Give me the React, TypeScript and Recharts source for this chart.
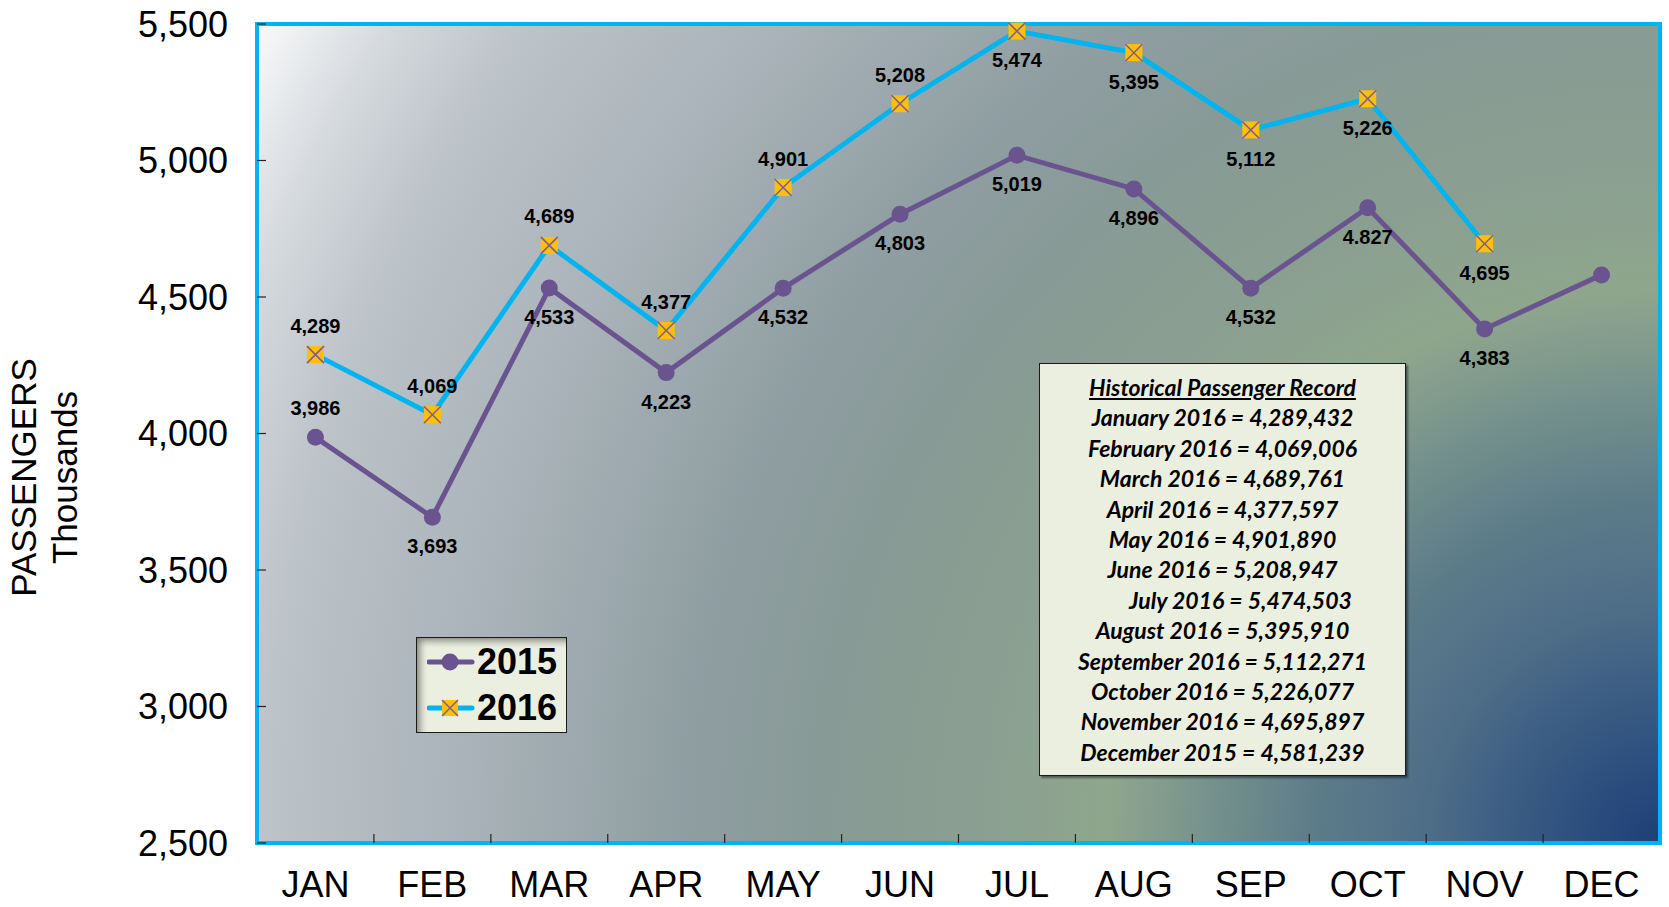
import React from 'react';
import { LineChart, Line, XAxis, YAxis, CartesianGrid, ReferenceArea, LabelList, Legend } from 'recharts';

const months = ['JAN', 'FEB', 'MAR', 'APR', 'MAY', 'JUN', 'JUL', 'AUG', 'SEP', 'OCT', 'NOV', 'DEC'];
const passengers2015 = [3986, 3693, 4533, 4223, 4532, 4803, 5019, 4896, 4532, 4827, 4383, 4581];
const passengers2016 = [4289, 4069, 4689, 4377, 4901, 5208, 5474, 5395, 5112, 5226, 4695, null];
const labels2015 = ['3,986', '3,693', '4,533', '4,223', '4,532', '4,803', '5,019', '4,896', '4,532', '4.827', '4,383', ''];
const labels2016 = ['4,289', '4,069', '4,689', '4,377', '4,901', '5,208', '5,474', '5,395', '5,112', '5,226', '4,695', ''];
const yTicks = [2500, 3000, 3500, 4000, 4500, 5000, 5500];

const recordTitle = 'Historical Passenger Record';
const recordLines = [
  'January 2016 = 4,289,432',
  'February 2016 = 4,069,006',
  'March 2016 = 4,689,761',
  'April 2016 = 4,377,597',
  'May 2016 = 4,901,890',
  'June 2016 = 5,208,947',
  'July 2016 = 5,474,503',
  'August 2016 = 5,395,910',
  'September 2016 = 5,112,271',
  'October 2016 = 5,226,077',
  'November 2016 = 4,695,897',
  'December 2015 = 4,581,239',
];

// which labels sit on the "other" side of their point
const above2015 = [0];
const below2016 = [6, 7, 8, 9, 10];

const COLOR_2015 = '#6a548f';
const COLOR_2016 = '#00b4f0';
const FONT = '"Liberation Sans", Arial, sans-serif';
const X_TICK_MARGIN = 28;
const Y_TICK_MARGIN = 29;
const MARK = 9;

const data = months.map((month, i) => ({
  month,
  y2015: passengers2015[i],
  y2016: passengers2016[i],
  l2015: labels2015[i],
  l2016: labels2016[i],
}));

const fmt = (v: number) => v.toLocaleString('en-US');

// month label plus an inward tick mark on the left edge of its category
const MonthTick = (props: any) => {
  const { x, y, payload, index, width, visibleTicksCount } = props;
  const band = width / (visibleTicksCount || months.length);
  const axisY = y - X_TICK_MARGIN;
  return (
    <g>
      {index > 0 && (
        <line x1={x - band / 2} y1={axisY} x2={x - band / 2} y2={axisY - MARK} stroke="#222" strokeWidth={1.2} />
      )}
      <text x={x} y={y} dy="0.71em" textAnchor="middle" fontFamily={FONT} fontSize={36} fill="#000">
        {payload.value}
      </text>
    </g>
  );
};

const ValueTick = (props: any) => {
  const { x, y, payload } = props;
  const axisX = x + Y_TICK_MARGIN;
  return (
    <g>
      <line x1={axisX} y1={y} x2={axisX + MARK} y2={y} stroke="#222" strokeWidth={1.2} />
      <text x={x} y={y} dy="0.355em" textAnchor="end" fontFamily={FONT} fontSize={36} fill="#000">
        {fmt(payload.value)}
      </text>
    </g>
  );
};

const SquareDot = (props: any) => {
  const { cx, cy, index } = props;
  if (cx == null || cy == null || props.value == null) return <g key={`sq-${index}`} />;
  const h = 8.5;
  return (
    <g key={`sq-${index}`}>
      <rect x={cx - h} y={cy - h} width={h * 2} height={h * 2} fill="#ffc000" />
      <line x1={cx - h} y1={cy - h} x2={cx + h} y2={cy + h} stroke="#7a5aa0" strokeWidth={1.5} />
      <line x1={cx - h} y1={cy + h} x2={cx + h} y2={cy - h} stroke="#7a5aa0" strokeWidth={1.5} />
    </g>
  );
};

const makeLabel = (flipped: number[], defaultBelow: boolean) => (props: any) => {
  const { x, y, value, index } = props;
  if (!value) return null;
  const below = flipped.includes(index) ? !defaultBelow : defaultBelow;
  return (
    <text
      x={x}
      y={y + (below ? 29 : -29)}
      textAnchor="middle"
      dominantBaseline="central"
      fontFamily={FONT}
      fontWeight="bold"
      fontSize={20}
      fill="#000"
    >
      {value}
    </text>
  );
};

const LegendBox = () => (
  <div
    style={{
      width: 151,
      height: 96,
      boxSizing: 'border-box',
      background: '#ebefe0',
      border: '1.5px solid #1a1a1a',
      boxShadow: 'inset 6px 6px 7px -3px rgba(0,0,0,0.45)',
      fontFamily: FONT,
      fontWeight: 'bold',
      fontSize: 36,
      color: '#000',
      paddingTop: 1,
    }}
  >
    {[
      { name: '2015', color: COLOR_2015, square: false },
      { name: '2016', color: COLOR_2016, square: true },
    ].map((s) => (
      <div key={s.name} style={{ display: 'flex', alignItems: 'center', height: 46 }}>
        <svg width={60} height={24} style={{ marginLeft: 10 }}>
          <line x1={2} y1={12} x2={45} y2={12} stroke={s.color} strokeWidth={5} strokeLinecap="round" />
          {s.square ? (
            <g>
              <rect x={15} y={4} width={16} height={16} fill="#ffc000" />
              <line x1={15} y1={4} x2={31} y2={20} stroke="#7a5aa0" strokeWidth={1.5} />
              <line x1={15} y1={20} x2={31} y2={4} stroke="#7a5aa0" strokeWidth={1.5} />
            </g>
          ) : (
            <circle cx={23} cy={12} r={8.5} fill={COLOR_2015} />
          )}
        </svg>
        <span style={{ marginLeft: -10 }}>{s.name}</span>
      </div>
    ))}
  </div>
);

const YTitle = (props: any) => {
  const { viewBox } = props;
  const cy = viewBox.y + viewBox.height / 2 + 44;
  const x1 = viewBox.x + 23;
  const x2 = viewBox.x + 64;
  return (
    <g fontFamily={FONT} fontSize={35} fill="#000">
      <text x={x1} y={cy} textAnchor="middle" dominantBaseline="central" transform={`rotate(-90, ${x1}, ${cy})`}>
        PASSENGERS
      </text>
      <text x={x2} y={cy} textAnchor="middle" dominantBaseline="central" transform={`rotate(-90, ${x2}, ${cy})`}>
        Thousands
      </text>
    </g>
  );
};

export default function App() {
  return (
    <div style={{ position: 'absolute', left: 0, top: 0, width: 1669, height: 907, background: '#fff' }}>
      <LineChart width={1669} height={907} data={data} margin={{ top: 24, right: 9, bottom: 0, left: 0 }}>
        <defs>
          {/* Excel-style path gradient, dark centre in the lower-right corner */}
          <radialGradient id="plotBg" gradientUnits="userSpaceOnUse" cx={1660} cy={843} r={1625}>
            <stop offset="0" stopColor="#1f3f76" />
            <stop offset="0.06" stopColor="#2f5280" />
            <stop offset="0.15" stopColor="#4f6f88" />
            <stop offset="0.21" stopColor="#5c7b89" />
            <stop offset="0.28" stopColor="#76928c" />
            <stop offset="0.34" stopColor="#8fa68d" />
            <stop offset="0.43" stopColor="#8a9e91" />
            <stop offset="0.52" stopColor="#889a96" />
            <stop offset="0.6" stopColor="#8f9ea2" />
            <stop offset="0.73" stopColor="#a8b2b8" />
            <stop offset="0.86" stopColor="#bcc3c9" />
            <stop offset="0.93" stopColor="#d6dade" />
            <stop offset="1" stopColor="#f9fafb" />
          </radialGradient>
        </defs>
        <CartesianGrid horizontal={false} vertical={false} fill="url(#plotBg)" fillOpacity={1} />
        <ReferenceArea
          x1="JAN"
          x2="DEC"
          y1={2500}
          y2={5500}
          fill="none"
          stroke={COLOR_2016}
          strokeWidth={4}
          ifOverflow="visible"
        />
        <XAxis
          dataKey="month"
          scale="band"
          height={64}
          axisLine={false}
          tickLine={false}
          tickSize={0}
          tickMargin={X_TICK_MARGIN}
          interval={0}
          tick={<MonthTick />}
        />
        <YAxis
          width={257}
          domain={[2500, 5500]}
          ticks={yTicks}
          axisLine={false}
          tickLine={false}
          tickMargin={Y_TICK_MARGIN}
          tickSize={0}
          tick={<ValueTick />}
          label={{ content: <YTitle /> }}
        />
        <Legend
          layout="vertical"
          align="center"
          verticalAlign="middle"
          content={<LegendBox />}
          wrapperStyle={{ position: 'absolute', left: 416, top: 637, width: 151, height: 96 }}
        />
        <Line
          dataKey="y2015"
          stroke={COLOR_2015}
          strokeWidth={5}
          dot={{ r: 8.5, fill: COLOR_2015, stroke: 'none' }}
          activeDot={false}
          isAnimationActive={false}
        >
          <LabelList dataKey="l2015" content={makeLabel(above2015, true)} />
        </Line>
        <Line
          dataKey="y2016"
          stroke={COLOR_2016}
          strokeWidth={5}
          dot={<SquareDot />}
          activeDot={false}
          isAnimationActive={false}
        >
          <LabelList dataKey="l2016" content={makeLabel(below2016, false)} />
        </Line>
      </LineChart>
      <div
        style={{
          position: 'absolute',
          left: 1039,
          top: 363,
          width: 367,
          height: 413,
          boxSizing: 'border-box',
          background: '#ebefe0',
          border: '1.5px solid #1a1a1a',
          boxShadow: '2px 2px 2px rgba(0,0,0,0.45)',
          paddingTop: 8,
          fontFamily: 'Lato, "Open Sans", sans-serif',
          fontStyle: 'italic',
          fontWeight: 'bold',
          fontSize: 23,
          lineHeight: '30.4px',
          textAlign: 'center',
          color: '#000',
        }}
      >
        <div style={{ textDecoration: 'underline' }}>{recordTitle}</div>
        {recordLines.map((line, i) => (
          <div key={line} style={{ paddingLeft: i === 6 ? 36 : 0 }}>
            {line}
          </div>
        ))}
      </div>
    </div>
  );
}
